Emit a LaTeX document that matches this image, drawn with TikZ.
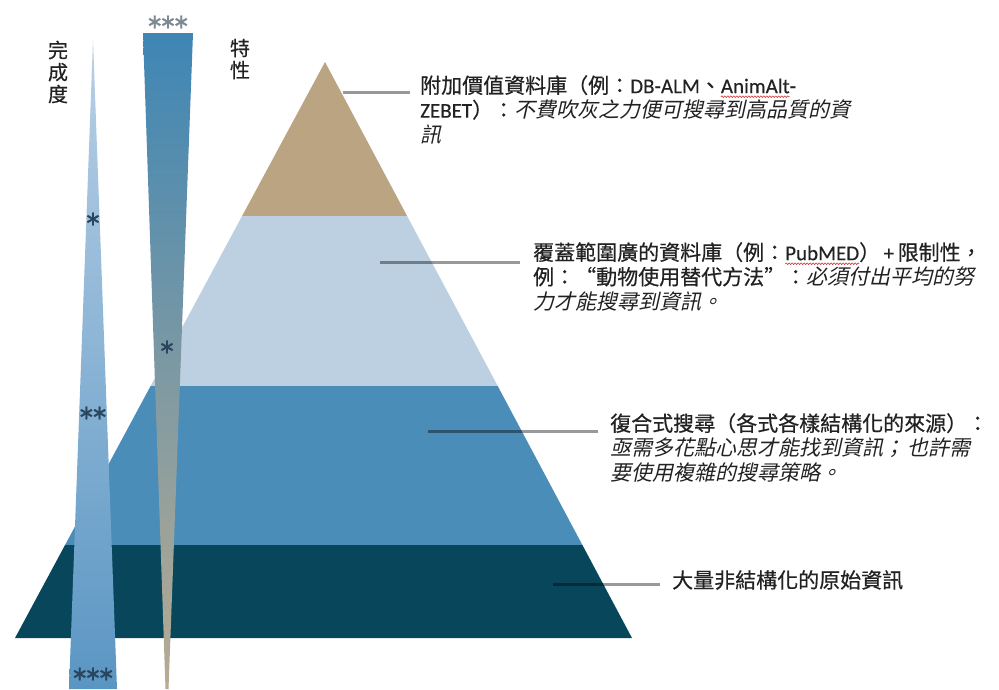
\documentclass[tikz,border=0pt]{standalone}
\usepackage{fontspec}
\usetikzlibrary{decorations.pathmorphing}
\setmainfont{Noto Sans CJK TC}[FakeBold=0.5]
\newfontfamily\itcjk{Noto Sans CJK TC}[FakeSlant=0.22]
\newfontfamily\lat{Carlito}[FakeBold=0.3]
\newfontfamily\sym{DejaVu Sans}[FakeBold=1.5]
\definecolor{tanL}{HTML}{BAA481}
\definecolor{lightL}{HTML}{BCD0E2}
\definecolor{midL}{HTML}{4A8DB8}
\definecolor{darkL}{HTML}{08475B}
\definecolor{barAtop}{HTML}{B9D0E6}
\definecolor{barAbot}{HTML}{5A96C3}
\definecolor{barBtop}{HTML}{3E86B5}
\definecolor{barBmid}{HTML}{8199A6}
\definecolor{barBbot}{HTML}{B8AB92}
\definecolor{starDark}{HTML}{29465E}
\definecolor{starGrey}{HTML}{7E8A92}
\definecolor{txt}{HTML}{222222}
\definecolor{wavered}{HTML}{D03030}
\newsavebox\wavebox
\newcommand\redwave[1]{\sbox\wavebox{#1}\rlap{\tikz[overlay]\draw[wavered,line width=0.6pt,decorate,decoration={snake,amplitude=0.8pt,segment length=3pt}] (0pt,-3.5pt) -- (\wd\wavebox,-3.5pt);}\usebox\wavebox}
\newcommand\stk{\kern-3.5pt}
\tikzset{
  leader/.style={draw=black, draw opacity=0.4, line width=3pt},
  label/.style={anchor=north west, inner sep=0pt, align=left, text=txt,
    font=\fontsize{21}{24.5}\selectfont},
  vlabel/.style={inner sep=0pt, align=center, text=txt,
    font=\fontsize{20}{22}\selectfont},
  stars/.style={inner sep=0pt, font=\sym\fontsize{20}{20}\selectfont},
}
\begin{document}
\begin{tikzpicture}[x=1pt,y=-1pt]
\useasboundingbox (0,0) rectangle (999,689);
\fill[white] (0,0) rectangle (999,689);
% pyramid layers
\fill[tanL]   (325,62) -- (407.1,216) -- (242.1,216) -- cycle;
\fill[lightL] (242.1,216) -- (407.1,216) -- (497.7,386) -- (150.6,386) -- cycle;
\fill[midL]   (150.6,386) -- (497.7,386) -- (582.4,545) -- (65.05,545) -- cycle;
\fill[darkL]  (65.05,545) -- (582.4,545) -- (632,638) -- (15,638) -- cycle;
% bars
\shade[top color=barAtop, bottom color=barAbot] (93,40) -- (117,689) -- (69,689) -- cycle;
\shade[top color=barBtop, middle color=barBmid, bottom color=barBbot]
  (143,33) -- (193,33) -- (168.5,689) -- (165.5,689) -- cycle;
% stars
\node[stars, text=starGrey] (s0) at (168,22) {∗\stk∗\stk∗};
\node[stars, text=starDark] (s1) at (93,219) {∗};
\node[stars, text=starDark] (s2) at (93,413) {∗\stk∗};
\node[stars, text=starDark] (s3) at (93,674) {∗\stk∗\stk∗};
\node[stars, text=starDark] (s4) at (167,347) {∗};
% vertical labels
\node[vlabel] (wcd) at (58,72) {完\\成\\度};
\node[vlabel] (tx) at (240,59) {特\\性};
% leader lines
\coordinate (a1) at (343,92);  \coordinate (b1) at (410,92);
\coordinate (a2) at (380,262); \coordinate (b2) at (520,262);
\coordinate (a3) at (428,431); \coordinate (b3) at (598,431);
\coordinate (a4) at (553,584); \coordinate (b4) at (660,584);
\draw[leader] (a1) -- (b1);
\draw[leader] (a2) -- (b2);
\draw[leader] (a3) -- (b3);
\draw[leader] (a4) -- (b4);
% labels
\node[label] (t1) at (420,75) {附加價值資料庫（例：{\lat DB-ALM}、{\lat\redwave{AnimAlt}-}\\
{\lat ZEBET}）：{\itcjk 不費吹灰之力便可搜尋到高品質的資}\\
{\itcjk 訊}};
\node[label] (t2) at (533,242) {覆蓋範圍廣的資料庫（例：{\lat\redwave{PubMED}}）{\lat\,+\,}限制性，\\
例：“動物使用替代方法”：{\itcjk 必須付出平均的努}\\
{\itcjk 力才能搜尋到資訊。}};
\node[label] (t3) at (610,413) {復合式搜尋（各式各樣結構化的來源）：\\
{\itcjk 亟需多花點心思才能找到資訊；\,也許需}\\
{\itcjk 要使用複雜的搜尋策略。}};
\node[label] (t4) at (672,570) {大量非結構化的原始資訊};
\end{tikzpicture}
\end{document}
